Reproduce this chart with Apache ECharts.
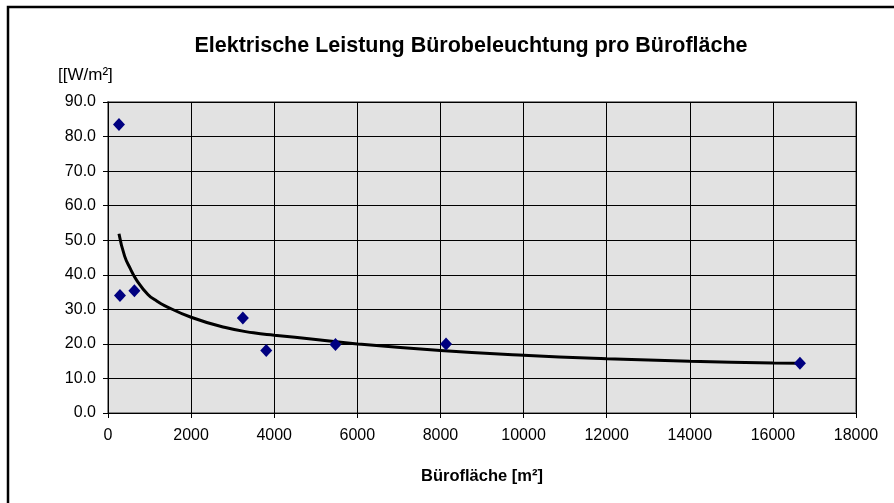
<!DOCTYPE html>
<html>
<head>
<meta charset="utf-8">
<script src="https://cdn.jsdelivr.net/npm/echarts@6/dist/echarts.min.js"></script>
<style>
  html, body { margin: 0; padding: 0; background: #fff; }
  #chart { width: 894px; height: 503px; }
</style>
</head>
<body>
<div id="chart"></div>
<script>
// Messpunkte: Bürofläche [m²] / Leistung [W/m²]
var flaeche = [264, 288, 635, 3245, 3808, 5474, 8135, 16651];
var leistung = [83.5, 34.0, 35.4, 27.5, 18.1, 19.8, 20.0, 14.4];

// Trendlinie
var trendX = [264, 400, 540, 680, 960, 1150, 1360, 2000, 2800, 3500, 4000, 5000, 6000, 8000, 10000, 12000, 14000, 16000, 16651];
var trendY = [51.9, 45.4, 41.7, 38.6, 34.3, 32.6, 31.1, 27.7, 24.8, 23.2, 22.5, 21.3, 20.0, 18.1, 16.7, 15.7, 15.0, 14.5, 14.4];

var xTicks = [0, 18000, 2000];   // min, max, interval
var yTicks = [0, 90, 10];

var chart = echarts.init(document.getElementById('chart'));

var punkte = [], trend = [];
for (var i = 0; i < flaeche.length; i++) punkte.push([flaeche[i], leistung[i]]);
for (var j = 0; j < trendX.length; j++) trend.push([trendX[j], trendY[j]]);

var font = 'Liberation Sans, Arial, sans-serif';

var option = {
  animation: false,
  backgroundColor: '#ffffff',
  grid: {
    left: 108, right: 38, top: 102, bottom: 90,
    show: true,
    backgroundColor: '#e2e2e2',
    borderColor: '#8a8a8a',
    borderWidth: 2
  },
  graphic: [
    {
      type: 'rect',
      shape: { x: 8, y: 7, width: 1000, height: 1000 },
      style: { fill: 'none', stroke: '#000', lineWidth: 2.5 },
      silent: true
    },
    {
      type: 'text', x: 471, y: 46,
      style: {
        text: 'Elektrische Leistung Bürobeleuchtung pro Bürofläche',
        fontFamily: font, fontSize: 21.5, fontWeight: 'bold', fill: '#000',
        textAlign: 'center', textVerticalAlign: 'middle'
      }
    },
    {
      type: 'text', x: 58, y: 75,
      style: {
        text: '[[W/m²]', fontFamily: font, fontSize: 17, fill: '#000',
        textAlign: 'left', textVerticalAlign: 'middle'
      }
    }
  ],
  xAxis: {
    type: 'value',
    min: xTicks[0], max: xTicks[1], interval: xTicks[2],
    name: 'Bürofläche [m²]',
    nameLocation: 'middle',
    nameGap: 55,
    nameTextStyle: { fontFamily: font, fontSize: 16.5, fontWeight: 'bold', color: '#000' },
    axisLine: { lineStyle: { color: '#000', width: 1 } },
    axisTick: { show: true, length: 5, lineStyle: { color: '#000' } },
    axisLabel: {
      fontFamily: font, fontSize: 16, color: '#000', margin: 15,
      formatter: function (v) { return String(v); }
    },
    splitLine: { show: true, lineStyle: { color: '#000', width: 1 } }
  },
  yAxis: {
    type: 'value',
    min: yTicks[0], max: yTicks[1], interval: yTicks[2],
    axisLine: { show: true, lineStyle: { color: '#000', width: 1 } },
    axisTick: { show: true, length: 5, lineStyle: { color: '#000' } },
    axisLabel: {
      fontFamily: font, fontSize: 16, color: '#000', margin: 12,
      formatter: function (v) { return v.toFixed(1); }
    },
    splitLine: { show: true, lineStyle: { color: '#000', width: 1 } }
  },
  series: [
    {
      name: 'Trend',
      type: 'line',
      data: trend,
      smooth: 0.5,
      showSymbol: false,
      lineStyle: { color: '#000', width: 3 },
      z: 2
    },
    {
      name: 'Leistung',
      type: 'scatter',
      data: punkte,
      symbol: 'diamond',
      symbolSize: [12, 13],
      itemStyle: { color: '#000080', opacity: 1 },
      z: 3
    }
  ]
};

chart.setOption(option);
</script>
</body>
</html>
